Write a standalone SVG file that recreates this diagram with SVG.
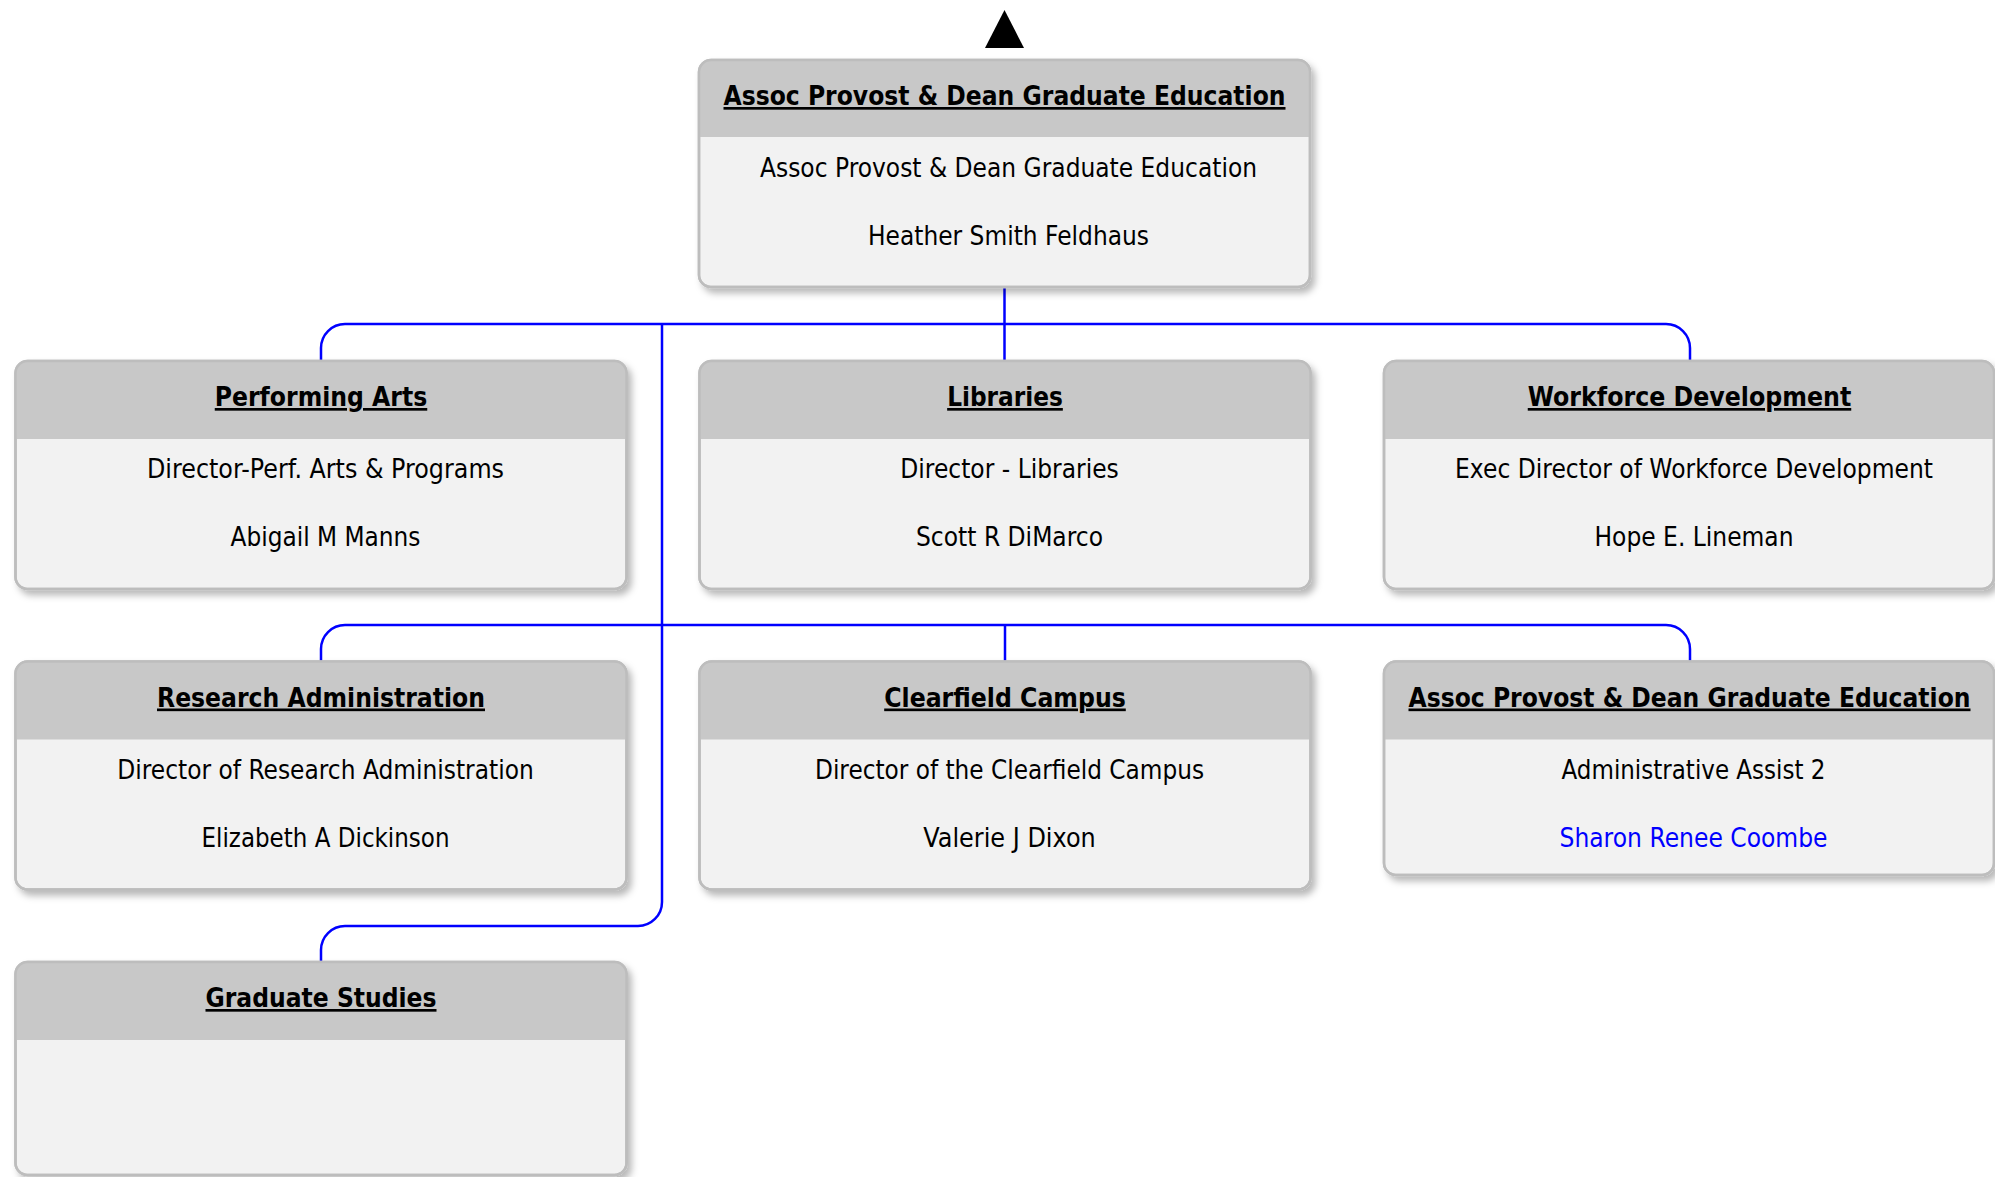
<svg xmlns="http://www.w3.org/2000/svg" width="1995" height="1177" viewBox="0 0 1995 1177">
<defs>
<filter id="sh" x="-5%" y="-5%" width="115%" height="120%">
<feDropShadow dx="4" dy="5" stdDeviation="3.5" flood-color="#000" flood-opacity="0.28"/>
</filter>
<style>
.box{fill:#f2f2f2;stroke:#bdbdbd;stroke-width:2.5;filter:url(#sh)}
.hdr{fill:#c8c8c8}
.edge{fill:none;stroke:#bdbdbd;stroke-width:2.5}
.t{font-family:"DejaVu Sans","Liberation Sans",sans-serif;font-size:26.67px;font-weight:bold;text-anchor:middle;text-decoration:underline;fill:#000}
.b{font-family:"DejaVu Sans","Liberation Sans",sans-serif;font-size:26.67px;text-anchor:middle;fill:#000}
.lnk{fill:#0000ff}
.con{fill:none;stroke:#0000ff;stroke-width:2.5}
</style>
</defs>
<rect width="1995" height="1177" fill="#fff"/>
<polygon id="up" points="1004.5,10 1024,48 985,48" fill="#000"/>
<g id="connectors">
<path class="con" d="M1004.5 287 V361"/>
<path class="con" d="M321 361 V348 A24 24 0 0 1 345 324 H1666 A24 24 0 0 1 1690 348 V361"/>
<path class="con" d="M321 661 V649 A24 24 0 0 1 345 625 H1666 A24 24 0 0 1 1690 649 V661"/>
<path class="con" d="M1005 625 V661"/>
<path class="con" d="M662 324 V902 A24 24 0 0 1 638 926 H345 A24 24 0 0 0 321 950 V962"/>
</g>
<g id="n-top">
<rect class="box" x="699" y="60" width="611" height="227" rx="12"/>
<path class="hdr" d="M699 137 V72 A12 12 0 0 1 711 60 H1298 A12 12 0 0 1 1310 72 V137 Z"/>
<rect class="edge" x="699" y="60" width="611" height="227" rx="12"/>
<text class="t" x="1004.5" y="105" textLength="562" lengthAdjust="spacingAndGlyphs">Assoc Provost &amp; Dean Graduate Education</text>
<text class="b" x="1008.5" y="177" textLength="497" lengthAdjust="spacingAndGlyphs">Assoc Provost &amp; Dean Graduate Education</text>
<text class="b" x="1008.5" y="245" textLength="281" lengthAdjust="spacingAndGlyphs">Heather Smith Feldhaus</text>
</g>
<g id="n-perf">
<rect class="box" x="15.5" y="361" width="611" height="228" rx="12"/>
<path class="hdr" d="M15.5 439 V373 A12 12 0 0 1 27.5 361 H614.5 A12 12 0 0 1 626.5 373 V439 Z"/>
<rect class="edge" x="15.5" y="361" width="611" height="228" rx="12"/>
<text class="t" x="321" y="406" textLength="212.5" lengthAdjust="spacingAndGlyphs">Performing Arts</text>
<text class="b" x="325.5" y="478" textLength="357" lengthAdjust="spacingAndGlyphs">Director-Perf. Arts &amp; Programs</text>
<text class="b" x="325.5" y="546" textLength="190" lengthAdjust="spacingAndGlyphs">Abigail M Manns</text>
</g>
<g id="n-lib">
<rect class="box" x="699.5" y="361" width="611" height="228" rx="12"/>
<path class="hdr" d="M699.5 439 V373 A12 12 0 0 1 711.5 361 H1298.5 A12 12 0 0 1 1310.5 373 V439 Z"/>
<rect class="edge" x="699.5" y="361" width="611" height="228" rx="12"/>
<text class="t" x="1005" y="406" textLength="115.7" lengthAdjust="spacingAndGlyphs">Libraries</text>
<text class="b" x="1009.5" y="478" textLength="218.5" lengthAdjust="spacingAndGlyphs">Director - Libraries</text>
<text class="b" x="1009.5" y="546" textLength="187" lengthAdjust="spacingAndGlyphs">Scott R DiMarco</text>
</g>
<g id="n-work">
<rect class="box" x="1384" y="361" width="610" height="228" rx="12"/>
<path class="hdr" d="M1384 439 V373 A12 12 0 0 1 1396 361 H1982 A12 12 0 0 1 1994 373 V439 Z"/>
<rect class="edge" x="1384" y="361" width="610" height="228" rx="12"/>
<text class="t" x="1689.5" y="406" textLength="323.5" lengthAdjust="spacingAndGlyphs">Workforce Development</text>
<text class="b" x="1694" y="478" textLength="478" lengthAdjust="spacingAndGlyphs">Exec Director of Workforce Development</text>
<text class="b" x="1694" y="546" textLength="199" lengthAdjust="spacingAndGlyphs">Hope E. Lineman</text>
</g>
<g id="n-research">
<rect class="box" x="15.5" y="661.5" width="611" height="228" rx="12"/>
<path class="hdr" d="M15.5 739.5 V673.5 A12 12 0 0 1 27.5 661.5 H614.5 A12 12 0 0 1 626.5 673.5 V739.5 Z"/>
<rect class="edge" x="15.5" y="661.5" width="611" height="228" rx="12"/>
<text class="t" x="321" y="706.5" textLength="328" lengthAdjust="spacingAndGlyphs">Research Administration</text>
<text class="b" x="325.5" y="778.5" textLength="416.5" lengthAdjust="spacingAndGlyphs">Director of Research Administration</text>
<text class="b" x="325.5" y="846.5" textLength="248" lengthAdjust="spacingAndGlyphs">Elizabeth A Dickinson</text>
</g>
<g id="n-clear">
<rect class="box" x="699.5" y="661.5" width="611" height="228" rx="12"/>
<path class="hdr" d="M699.5 739.5 V673.5 A12 12 0 0 1 711.5 661.5 H1298.5 A12 12 0 0 1 1310.5 673.5 V739.5 Z"/>
<rect class="edge" x="699.5" y="661.5" width="611" height="228" rx="12"/>
<text class="t" x="1005" y="706.5" textLength="241.6" lengthAdjust="spacingAndGlyphs">Clearfield Campus</text>
<text class="b" x="1009.5" y="778.5" textLength="389" lengthAdjust="spacingAndGlyphs">Director of the Clearfield Campus</text>
<text class="b" x="1009.5" y="846.5" textLength="172.6" lengthAdjust="spacingAndGlyphs">Valerie J Dixon</text>
</g>
<g id="n-assist">
<rect class="box" x="1384" y="661.5" width="610" height="213.5" rx="12"/>
<path class="hdr" d="M1384 739.5 V673.5 A12 12 0 0 1 1396 661.5 H1982 A12 12 0 0 1 1994 673.5 V739.5 Z"/>
<rect class="edge" x="1384" y="661.5" width="610" height="213.5" rx="12"/>
<text class="t" x="1689.5" y="706.5" textLength="562" lengthAdjust="spacingAndGlyphs">Assoc Provost &amp; Dean Graduate Education</text>
<text class="b" x="1693.5" y="778.5" textLength="264" lengthAdjust="spacingAndGlyphs">Administrative Assist 2</text>
<text class="b lnk" x="1693.5" y="846.5" textLength="268" lengthAdjust="spacingAndGlyphs">Sharon Renee Coombe</text>
</g>
<g id="n-grad">
<rect class="box" x="15.5" y="962" width="611" height="213" rx="12"/>
<path class="hdr" d="M15.5 1040 V974 A12 12 0 0 1 27.5 962 H614.5 A12 12 0 0 1 626.5 974 V1040 Z"/>
<rect class="edge" x="15.5" y="962" width="611" height="213" rx="12"/>
<text class="t" x="321" y="1007" textLength="231" lengthAdjust="spacingAndGlyphs">Graduate Studies</text>
</g>
</svg>
